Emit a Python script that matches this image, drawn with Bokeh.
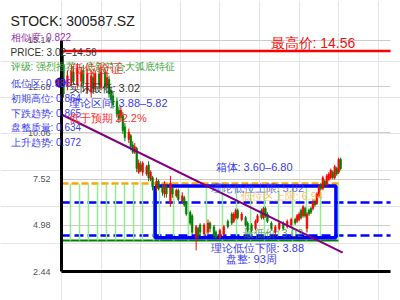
from bokeh.plotting import figure
from bokeh.models import Range1d, Label, FixedTicker, PrintfTickFormatter, LinearAxis, Grid
from bokeh.embed import file_html
from bokeh.resources import INLINE

# ---------------- data ----------------
stock_code = "300587.SZ"
similarity = 0.822
price_min = 3.02
price_max = 14.56
rating = "强烈推荐 - 底部符合大弧底特征"
y_ticks = [2.44, 4.98, 7.52, 10.06, 12.60, 15.14]
score_names = ["低位区", "初期高位", "下跌趋势", "盘整质量", "上升趋势"]
score_values = [0.985, 0.864, 0.865, 0.634, 0.972]
theory_low = 3.88
theory_high = 5.82
lowzone_upper = 6.94
box_low = 3.60
box_high = 6.80
consol_weeks = 93
below_pct = 22.2

week = [1, 3, 5, 6, 8, 10, 11, 13, 15, 16, 17, 19, 20, 22, 23, 24, 25, 26, 28, 29,
        30, 31, 32, 34, 35, 36, 37, 38, 39, 40, 41, 43, 44, 45, 46, 48, 49, 51, 52, 53,
        55, 56, 58, 59, 61, 62, 63, 65, 66, 68, 69, 70, 72, 74, 75, 77, 78, 80, 82, 84,
        86, 87, 88, 89, 91, 93, 94, 96, 98, 99, 101, 102, 103, 104, 106, 108, 110, 112, 114, 116,
        118, 119, 120, 121, 122, 123, 124, 125, 126, 127, 128, 129, 130, 131, 132, 133, 134, 135, 136, 137,
        138, 139, 140, 141]
open_ = [13.8, 12.6, 12.8, 13.4, 12.7, 12.9, 13.5, 12.4, 12.3, 13.1, 12.6, 13.3, 12.6, 13.4, 12.7, 13.0, 12.4, 12.1, 11.8, 11.3,
         10.9, 11.0, 10.4, 9.7, 9.9, 9.4, 9.0, 9.2, 7.9, 8.3, 7.9, 7.8, 8.3, 7.5, 7.6, 7.0, 7.4, 7.1, 6.7, 7.1,
         6.2, 7.0, 6.6, 6.9, 6.3, 6.5, 6.2, 5.7, 5.5, 4.3, 4.8, 5.0, 4.5, 4.6, 5.1, 4.9, 4.6, 4.3, 4.5, 5.2,
         5.6, 5.2, 5.4, 5.8, 5.3, 5.4, 5.1, 5.0, 4.8, 5.2, 5.8, 5.4, 5.9, 5.6, 5.1, 4.6, 4.8, 5.1, 4.9, 5.0,
         5.3, 5.2, 5.3, 5.8, 5.5, 5.9, 4.8, 5.8, 5.9, 5.9, 6.3, 6.2, 6.6, 7.2, 7.0, 7.4, 7.2, 7.5, 7.6, 7.9,
         7.6, 8.1, 7.9, 8.6]
close = [12.2, 13.2, 13.5, 12.9, 13.6, 13.4, 12.8, 13.3, 13.2, 12.5, 13.3, 12.7, 13.4, 12.6, 13.1, 12.2, 11.9, 11.6, 11.1, 10.8,
         11.3, 10.2, 9.8, 10.1, 9.3, 9.0, 9.3, 8.1, 8.4, 8.0, 8.4, 8.2, 7.6, 7.9, 7.1, 7.4, 7.0, 6.8, 7.2, 6.7,
         7.3, 6.7, 6.9, 6.4, 6.6, 6.1, 5.6, 5.1, 4.6, 4.9, 4.4, 4.6, 5.0, 5.1, 4.8, 4.4, 4.3, 4.7, 4.9, 4.9,
         5.1, 5.6, 5.8, 5.4, 5.6, 5.0, 4.7, 4.7, 5.2, 5.5, 5.4, 5.9, 5.5, 5.2, 4.8, 4.9, 5.1, 4.8, 5.2, 5.3,
         5.1, 5.5, 5.6, 5.4, 6.0, 5.5, 5.6, 5.6, 5.7, 6.3, 6.1, 6.7, 7.1, 7.0, 7.6, 7.2, 7.7, 7.8, 8.0, 7.6,
         8.2, 7.8, 8.6, 8.1]
high = [14.3, 13.5, 13.8, 13.6, 13.9, 13.7, 13.8, 13.6, 13.5, 13.4, 13.5, 13.6, 13.7, 13.6, 13.4, 13.2, 12.6, 12.3, 12.0, 11.5,
        11.5, 11.2, 10.6, 10.3, 10.0, 9.6, 9.5, 9.3, 8.6, 8.5, 8.5, 8.3, 8.5, 8.0, 7.7, 7.6, 7.5, 7.2, 7.4, 7.2,
        7.7, 7.1, 7.0, 7.0, 6.8, 6.6, 6.3, 5.8, 5.6, 5.0, 4.9, 5.1, 5.1, 5.3, 5.2, 5.0, 4.7, 4.8, 5.0, 5.3,
        5.7, 5.7, 5.9, 5.9, 5.7, 5.5, 5.2, 5.1, 5.3, 5.6, 5.9, 6.0, 6.0, 5.7, 5.2, 5.0, 5.2, 5.2, 5.3, 5.4,
        5.4, 5.6, 5.7, 5.9, 6.1, 6.0, 5.7, 5.9, 6.0, 6.4, 6.4, 6.8, 7.2, 7.3, 7.7, 7.5, 7.8, 7.9, 8.1, 8.0,
        8.3, 8.2, 8.7, 8.7]
low = [12.0, 12.4, 12.6, 12.7, 12.5, 12.6, 12.5, 12.2, 12.0, 12.2, 12.4, 12.5, 12.4, 12.4, 12.5, 12.0, 11.7, 11.4, 10.9, 10.6,
       10.7, 10.0, 9.6, 9.5, 9.1, 8.9, 8.9, 7.9, 7.8, 7.9, 7.7, 7.7, 7.4, 7.4, 6.9, 6.8, 6.9, 6.6, 6.5, 6.5,
       6.0, 6.5, 6.5, 6.3, 6.2, 6.0, 5.5, 5.0, 4.5, 3.6, 4.2, 4.4, 4.4, 4.5, 4.6, 4.3, 4.2, 4.2, 4.4, 4.8,
       5.0, 5.1, 5.3, 5.3, 5.2, 4.9, 4.6, 4.6, 4.7, 5.1, 5.3, 5.3, 5.4, 5.1, 4.7, 4.4, 4.7, 4.7, 4.8, 4.9,
       5.0, 5.1, 5.2, 5.3, 5.4, 5.4, 4.6, 5.5, 5.6, 5.8, 6.0, 6.1, 6.5, 6.9, 6.9, 7.1, 7.1, 7.4, 7.5, 7.5,
       7.5, 7.7, 7.8, 8.0]

# drawn levels / positions of guide marks
plot_weeks = [0, 166.2]
box_weeks = [47.3, 138.6]
box_levels = [4.30, 7.14]
lowzone_line_level = 7.28
theory_high_line_level = 6.23
theory_low_line_level = 4.42
min_line_level = 4.14
guide_end_weeks = [141, 140]
trend_weeks = [0, 142]
trend_values = [11.07, 3.48]
marker_weeks = [0, 4.5, 9.1, 13.6, 18.2, 22.7, 27.3, 31.8, 36.4, 40.9, 46.5,
                49.5, 56.6, 64.1, 73.2, 81.3, 88.4, 95.5, 102.5, 109.6, 116.7, 123.7, 130.8, 139.9]
first_high_week = -0.5
first_high_value = 12.83

# ---------------- figure ----------------
FONT = "Liberation Sans"
W, H = 400, 300
PXW = 1.98            # px per week
PXV = 18.19           # px per price unit
FL, FB = 61, 271      # page pixel of week 0 / price 2.44
x0 = -FL / PXW
x1 = (W - FL) / PXW
y0 = y_ticks[0] - (H - FB) / PXV
y1 = y_ticks[0] + FB / PXV

p = figure(width=W, height=H, x_range=Range1d(x0, x1), y_range=Range1d(y0, y1),
           output_backend="svg", toolbar_location=None, title=None,
           x_axis_location=None, y_axis_location=None,
           min_border=0, min_border_left=0, min_border_right=0, min_border_top=0, min_border_bottom=0)
p.outline_line_color = None
p.background_fill_color = "white"
p.border_fill_color = "white"

yticker = FixedTicker(ticks=y_ticks)
yaxis = LinearAxis(fixed_location=plot_weeks[0], ticker=yticker,
                   formatter=PrintfTickFormatter(format="%.2f"),
                   bounds=(y_ticks[0], y_ticks[-1]))
yaxis.axis_line_width = 3
yaxis.axis_line_color = "black"
yaxis.major_tick_line_color = None
yaxis.minor_tick_line_color = None
yaxis.major_label_text_font_size = "9px"
yaxis.major_label_text_color = "#555555"
yaxis.major_label_text_font = FONT
yaxis.major_label_standoff = 5
p.add_layout(yaxis, "left")

xaxis = LinearAxis(fixed_location=y_ticks[0], ticker=FixedTicker(ticks=[]),
                   bounds=(plot_weeks[0], plot_weeks[1]))
xaxis.axis_line_width = 3
xaxis.axis_line_color = "black"
xaxis.major_tick_line_color = None
xaxis.minor_tick_line_color = None
xaxis.major_label_text_font_size = "0px"
p.add_layout(xaxis, "below")

grid = Grid(dimension=1, ticker=yticker, grid_line_color="#cccccc", grid_line_width=1)
try:
    grid.cross_bounds = (plot_weeks[0], plot_weeks[1])
    p.add_layout(grid)
except Exception:
    p.segment(x0=[plot_weeks[0]] * len(y_ticks), x1=[plot_weeks[1]] * len(y_ticks),
              y0=y_ticks, y1=y_ticks, line_color="#cccccc", line_width=1, level="underlay")

# guide lines
p.line(plot_weeks, [price_max] * 2, line_color="red", line_width=2.5)
p.line(plot_weeks, [theory_high_line_level] * 2, line_color="blue", line_width=2.5, line_dash="9 4")
p.line(plot_weeks, [theory_low_line_level] * 2, line_color="blue", line_width=2.5, line_dash="9 4")
p.line([0, guide_end_weeks[0]], [lowzone_line_level] * 2, line_color="orange", line_width=2.5,
       line_dash="7 3")
p.line([0, guide_end_weeks[1]], [min_line_level] * 2, line_color="green", line_width=2)
p.segment(x0=marker_weeks, y0=[min_line_level] * len(marker_weeks), x1=marker_weeks,
          y1=[lowzone_line_level] * len(marker_weeks), line_color="#90ee90", line_width=1.5)

# box
bx = [box_weeks[0], box_weeks[1], box_weeks[1], box_weeks[0], box_weeks[0]]
by = [box_levels[1], box_levels[1], box_levels[0], box_levels[0], box_levels[1]]
p.line(bx, by, line_color="blue", line_width=3.5)

# candles
up = [c >= o for o, c in zip(open_, close)]
colors = ["red" if u else "green" for u in up]
p.segment(x0=week, y0=low, x1=week, y1=high, line_color=colors, line_width=1)
p.vbar(x=week, width=0.8, top=[max(o, c) for o, c in zip(open_, close)],
       bottom=[min(o, c) for o, c in zip(open_, close)], fill_color=colors, line_color=colors, line_width=0.6)

# trend line
p.line(trend_weeks, trend_values, line_color="purple", line_width=2)

# first high marker
p.scatter([first_high_week], [first_high_value], size=9, fill_color="#cc0000", line_color="blue",
          line_width=1.5)


def lab(text, xpx, ypx, size, color, alpha=1.0, align="left"):
    # frame covers the whole canvas: screen units from its bottom-left corner
    p.add_layout(Label(x=xpx, y=H - ypx, x_units="screen", y_units="screen", text=text,
                       text_font=FONT, text_font_size=f"{size}px", text_color=color,
                       text_alpha=alpha, text_align=align, text_baseline="middle"))


lab(f"STOCK: {stock_code}", 10, 20, 14, "#222222")
lab(f"相似度: {similarity:.3f}", 10, 37, 10, "#9b30b0")
lab(f"PRICE: {price_min:.2f}–{price_max:.2f}", 10, 52, 10, "#333333")
lab(f"评级: {rating}", 10, 66, 10, "#3aa53a")
for i, (n, v) in enumerate(zip(score_names, score_values)):
    lab(f"{n}: {v:.3f}", 10, 83 + i * 14.8, 10, "#3c3cf0")
lab(f"最高价: {price_max:.2f}", 270, 42, 14, "#ee1111")
lab("低位验证:", 70, 68, 13, "#ff2020", 0.85)
lab(f"实际最低: {price_min:.2f}", 68, 87, 11, "#333333")
lab(f"理论区间: {theory_low:.2f}–{theory_high:.2f}", 68, 102, 11, "#3c3cf0")
lab(f"低于预期 {below_pct:.1f}%", 68, 117, 11, "#ff3030")
lab(f"箱体: {box_low:.2f}–{box_high:.2f}", 215, 166, 11, "#3c3cf0")
lab(f"理论低位上限: {theory_high:.2f}", 210, 187, 11, "#3c3cf0", 0.8)
lab(f"低位区上限: {lowzone_upper:.2f}", 240, 195, 11, "#ffb040", 0.8)
lab(f"最低价: {price_min:.2f}", 242, 232, 11, "#2e8b2e", 0.8)
lab(f"理论低位下限: {theory_low:.2f}", 210, 247, 11, "#3c3cf0")
lab(f"盘整: {consol_weeks}周", 225, 258, 11, "#3c3cf0")

open("out.html", "w").write(file_html(p, INLINE))
